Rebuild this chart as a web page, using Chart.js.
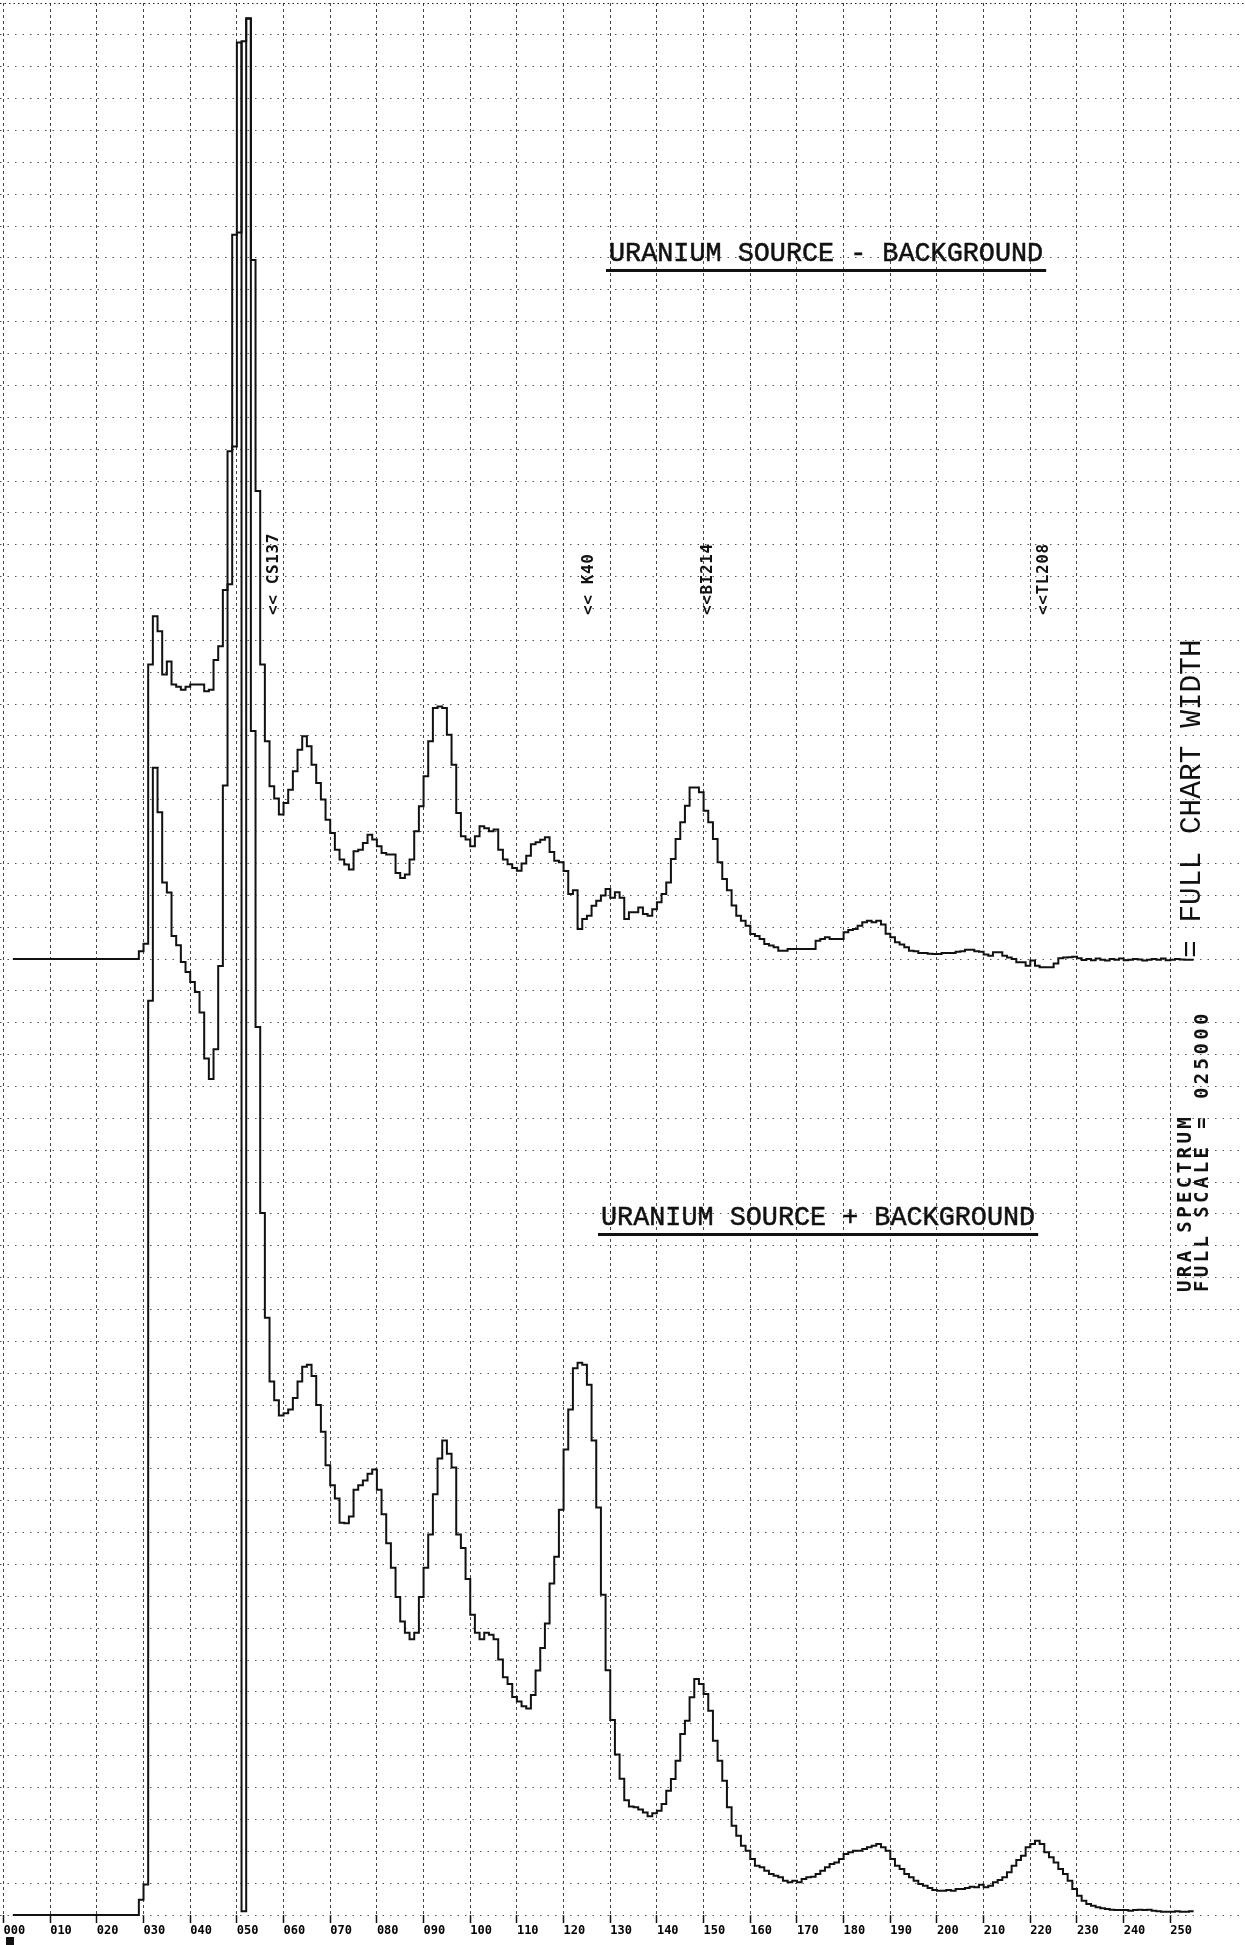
<!DOCTYPE html>
<html>
<head>
<meta charset="utf-8">
<title>URA spectrum</title>
<script src="https://cdn.jsdelivr.net/npm/chart.js@4.4.1/dist/chart.umd.min.js"></script>
<style>
  html, body { margin: 0; padding: 0; background: #ffffff; }
  canvas { display: block; }
</style>
</head>
<body>
<canvas id="spectrum" width="1245" height="1945"></canvas>
<script>
// Channel axis: ticks every 10 channels, printed as three-digit numbers
const channelTicks = [0, 10, 20, 30, 40, 50, 60, 70, 80, 90, 100, 110, 120, 130,
  140, 150, 160, 170, 180, 190, 200, 210, 220, 230, 240, 250];
const channelTickLabels = ['000', '010', '020', '030', '040', '050', '060', '070', '080',
  '090', '100', '110', '120', '130', '140', '150', '160', '170', '180', '190', '200',
  '210', '220', '230', '240', '250'];

// Full scale of the plot, in counts
const fullScale = 25000;

// Counts per channel, uranium source + background (channels 0..255; 0 and 1 not plotted)
const sourcePlusBackground = [
  null, null, 0, 0, 0, 0, 0, 0, 0, 0,
  0, 0, 0, 0, 0, 0, 0, 0, 0, 0,
  0, 0, 0, 0, 0, 0, 0, 0, 0, 0,
  200, 400, 11955, 15000, 14420, 13500, 13370, 12800, 12680, 12460,
  12330, 12200, 12070, 11800, 11200, 10930, 11320, 12410, 14770, 17400,
  19200, 22000, 24500, 24800, 15480, 11610, 9180, 7808, 6975, 6729,
  6530, 6560, 6610, 6760, 6975, 7170, 7196, 7049, 6670, 6319,
  5881, 5620, 5445, 5130, 5123, 5210, 5560, 5620, 5680, 5770,
  5824, 5560, 5240, 4860, 4540, 4159, 3839, 3692, 3605, 3692,
  4159, 4540, 4976, 5500, 5969, 6203, 6030, 5850, 4976, 4800,
  4393, 3925, 3692, 3605, 3692, 3663, 3605, 3342, 3110, 3020,
  2850, 2790, 2730, 2700, 2876, 3197, 3490, 3810, 4334, 4685,
  5298, 6086, 6611, 7150, 7220, 7196, 6932, 6203, 5327, 4189,
  3200, 2550, 2100, 1780, 1500, 1420, 1408, 1380, 1340, 1290,
  1330, 1364, 1450, 1625, 1778, 2018, 2366, 2540, 2846, 3085,
  3020, 2890, 2671, 2279, 2018, 1756, 1408, 1168, 1037, 906,
  841, 732, 645, 623, 580, 536, 514, 492, 449, 427,
  449, 427, 471, 492, 500, 536, 580, 623, 667, 688,
  732, 797, 819, 841, 841, 863, 885, 906, 928, 885,
  841, 732, 645, 601, 536, 492, 449, 405, 384, 353,
  327, 318, 318, 327, 318, 340, 340, 353, 370, 362,
  397, 362, 384, 427, 458, 492, 558, 645, 719, 775,
  885, 928, 972, 928, 819, 754, 688, 601, 536, 449,
  340, 253, 187, 144, 122, 100, 87, 78, 70, 65,
  65, 65, 57, 65, 70, 65, 70, 57, 48, 44,
  44, 44, 48, 44, 44, 48
];

// Counts per channel, uranium source - background (signed, plotted about mid scale;
// channel 52 overflowed the plotter range and was drawn at the bottom)
const sourceMinusBackground = [
  null, null, 0, 0, 0, 0, 0, 0, 0, 0,
  0, 0, 0, 0, 0, 0, 0, 0, 0, 0,
  0, 0, 0, 0, 0, 0, 0, 0, 0, 0,
  100, 200, 3850, 4480, 4285, 3720, 3890, 3590, 3560, 3520,
  3560, 3590, 3590, 3590, 3500, 3520, 3910, 4090, 4825, 6640,
  9470, 11985, -12450, 12294, 9140, 6119, 3850, 2846, 2258, 2100,
  1888, 2040, 2214, 2454, 2737, 2911, 2781, 2541, 2301, 2084,
  1822, 1648, 1430, 1301, 1234, 1170, 1408, 1430, 1517, 1626,
  1561, 1474, 1387, 1365, 1365, 1125, 1060, 1104, 1300, 1670,
  1997, 2389, 2846, 3282, 3300, 3282, 2933, 2541, 1910, 1604,
  1561, 1474, 1604, 1735, 1710, 1670, 1692, 1430, 1300, 1240,
  1190, 1155, 1250, 1350, 1500, 1525, 1560, 1591, 1400, 1286,
  1264, 1150, 850, 900, 392, 523, 566, 697, 763, 830,
  915, 800, 872, 800, 523, 610, 610, 675, 588, 566,
  650, 741, 850, 1000, 1307, 1569, 1787, 2005, 2244, 2244,
  2179, 1939, 1787, 1569, 1264, 1046, 900, 700, 566, 500,
  436, 327, 300, 261, 196, 175, 153, 109, 109, 131,
  131, 131, 131, 131, 131, 240, 260, 283, 261, 261,
  261, 349, 380, 392, 436, 480, 501, 480, 501, 450,
  330, 283, 218, 190, 153, 109, 100, 78, 78, 70,
  65, 65, 78, 78, 80, 96, 100, 122, 122, 100,
  96, 60, 44, 87, 87, 44, 20, 0, -44, -44,
  -87, -20, -87, -109, -109, -109, -60, 9, 20, 22,
  30, 10, -13, 0, -15, 5, -10, -20, 0, -10,
  5, -15, -10, 0, -5, -20, -10, 0, -10, 5,
  -15, -10, 0, -5, -10, -10
];

// Isotope markers printed above the traces
const isotopeNames = ['<< CS137', '<< K40', '<<BI214', '<<TL208'];
const isotopeChannels = [58, 125.5, 151, 223];

// Page layout for the printed annotations (pixels)
const layoutText = {
  titleFont: '26.8px "Liberation Mono", "Courier New", monospace',
  titles: [
    { text: 'URANIUM SOURCE - BACKGROUND', left: 609, baseline: 261 },
    { text: 'URANIUM SOURCE + BACKGROUND', left: 601, baseline: 1225 }
  ],
  markerFont: 'bold 16px "DejaVu Sans Mono", monospace',
  markerSpacing: 0.6,
  markerBottom: 615,
  widthFont: '29.5px "Liberation Mono", "Courier New", monospace',
  widthText: '= FULL CHART WIDTH',
  widthX: 1192,
  widthBottom: 958,
  scaleFont: 'bold 19px "DejaVu Sans Mono", monospace',
  scaleSpacing: 3.4,
  scaleLines: ['URA SPECTRUM', 'FULL SCALE = 025000'],
  scaleX: [1186, 1203],
  scaleBottom: 1292
};

function toPoints(values) {
  return values.map((v, i) => ({ x: i, y: v }));
}

function verticalText(ctx, text, cx, bottom, font, spacing) {
  ctx.save();
  ctx.translate(cx, bottom);
  ctx.rotate(-Math.PI / 2);
  ctx.font = font;
  if ('letterSpacing' in ctx) ctx.letterSpacing = (spacing || 0) + 'px';
  ctx.textAlign = 'left';
  ctx.textBaseline = 'middle';
  ctx.fillText(text, 0, 0);
  ctx.restore();
}

const annotationText = {
  id: 'annotationText',
  afterDraw(chart) {
    const { ctx } = chart;
    const xs = chart.scales.x;
    ctx.save();
    ctx.fillStyle = '#111';
    ctx.strokeStyle = '#111';

    // Trace titles, underlined
    ctx.font = layoutText.titleFont;
    ctx.textAlign = 'left';
    ctx.textBaseline = 'alphabetic';
    ctx.lineWidth = 0.5;
    layoutText.titles.forEach(t => {
      ctx.fillText(t.text, t.left, t.baseline);
      ctx.strokeText(t.text, t.left, t.baseline);
      const w = ctx.measureText(t.text).width;
      ctx.fillRect(t.left - 3, t.baseline + 8, w + 6, 3);
    });

    // Isotope markers, written upward at their channel
    isotopeNames.forEach((name, i) => {
      const px = xs.getPixelForValue(isotopeChannels[i]);
      verticalText(ctx, name, px, layoutText.markerBottom, layoutText.markerFont, layoutText.markerSpacing);
    });

    // Right margin notes
    verticalText(ctx, layoutText.widthText, layoutText.widthX, layoutText.widthBottom, layoutText.widthFont, 0);
    layoutText.scaleLines.forEach((line, i) => {
      verticalText(ctx, line, layoutText.scaleX[i], layoutText.scaleBottom, layoutText.scaleFont, layoutText.scaleSpacing);
    });

    // pen mark at the plot origin
    ctx.fillRect(6, 1937, 8, 8);
    ctx.restore();
  }
};

const whiteBackground = {
  id: 'whiteBackground',
  beforeDraw(chart) {
    const { ctx, width, height } = chart;
    ctx.save();
    ctx.fillStyle = '#ffffff';
    ctx.fillRect(0, 0, width, height);
    ctx.restore();
  }
};

const gridSteps = 60;

new Chart(document.getElementById('spectrum'), {
  type: 'line',
  data: {
    datasets: [
      {
        label: 'URANIUM SOURCE + BACKGROUND',
        data: toPoints(sourcePlusBackground),
        yAxisID: 'y',
        stepped: 'after',
        borderColor: '#111111',
        borderWidth: 2,
        pointRadius: 0,
        fill: false,
        spanGaps: false,
        clip: false
      },
      {
        label: 'URANIUM SOURCE - BACKGROUND',
        data: toPoints(sourceMinusBackground),
        yAxisID: 'yDiff',
        stepped: 'after',
        borderColor: '#111111',
        borderWidth: 2,
        pointRadius: 0,
        fill: false,
        spanGaps: false,
        clip: false
      }
    ]
  },
  options: {
    responsive: false,
    animation: false,
    devicePixelRatio: 1,
    events: [],
    layout: { padding: { top: 3, left: 0, right: 0, bottom: 0 } },
    plugins: { legend: { display: false }, tooltip: { enabled: false }, title: { display: false } },
    scales: {
      x: {
        type: 'linear',
        position: 'bottom',
        min: -0.75,
        max: 266,
        afterBuildTicks: scale => { scale.ticks = channelTicks.map(v => ({ value: v })); },
        afterFit: scale => { scale.height = 30; },
        ticks: {
          autoSkip: false,
          maxRotation: 0,
          align: 'start',
          padding: 1,
          color: '#000',
          font: { family: '"DejaVu Sans Mono", monospace', weight: 'bold', size: 12 },
          callback: (value, index) => channelTickLabels[index]
        },
        grid: {
          color: '#444',
          lineWidth: 1,
          drawTicks: true,
          tickLength: 8,
          tickColor: '#111',
          tickWidth: 1.5
        },
        border: { display: false, dash: [3, 3] }
      },
      y: {
        type: 'linear',
        position: 'left',
        min: 0,
        max: fullScale,
        afterBuildTicks: scale => {
          const t = [];
          for (let i = 0; i <= gridSteps; i++) t.push({ value: fullScale * i / gridSteps });
          scale.ticks = t;
        },
        afterFit: scale => { scale.width = 0; },
        ticks: { display: false },
        grid: { color: ctx => (ctx.index === gridSteps ? '#222' : '#555'), lineWidth: 1, drawTicks: false },
        border: { display: false, dash: ctx => (ctx.index === gridSteps ? [1.5, 3] : [1.5, 6]) }
      },
      yDiff: {
        type: 'linear',
        position: 'right',
        min: -fullScale / 2,
        max: fullScale / 2,
        display: false
      }
    }
  },
  plugins: [whiteBackground, annotationText]
});
</script>
</body>
</html>
